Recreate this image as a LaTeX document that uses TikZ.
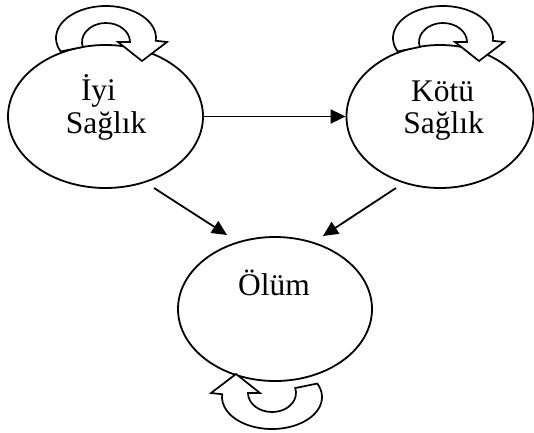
\documentclass[tikz,border=0pt]{standalone}
\usepackage{fontspec}
\setmainfont{Liberation Serif}
\usetikzlibrary{shapes.geometric,arrows.meta}
\begin{document}
\begin{tikzpicture}[x=1pt,y=-1pt,
  state/.style={draw,ellipse,line width=1.8pt,inner sep=0pt},
  lbl/.style={anchor=base,inner sep=0pt,font=\fontsize{31.5}{34}\selectfont},
  conn/.style={line width=1.8pt,-{Triangle[length=15pt,width=14pt]}},
  selfloop/.pic={
    \draw[line width=1.7pt,fill=white,line join=miter]
      (-45.3,13.5) arc[start angle=155,end angle=365,x radius=50,y radius=32]
      -- (61,4) -- (36,23) -- (12,4) -- (24,4)
      arc[start angle=0,end angle=-195,x radius=24,y radius=19]
      -- cycle;
  }]
\useasboundingbox (0,0) rectangle (534,432);
% states
\node[state,minimum width=195pt,minimum height=143pt] (e1) at (105.5,116.5) {};
\node[state,minimum width=187pt,minimum height=143pt] (e2) at (440,116.5) {};
\node[state,minimum width=194pt,minimum height=144pt] (e3) at (275,309) {};
% self loops
\pic at (106,38) {selfloop};
\pic at (443,38) {selfloop};
\pic[rotate=180] at (272,397) {selfloop};
% labels
\node[lbl] (t1a) at (98.5,100) {İyi};
\node[lbl] (t1b) at (106,133) {Sağlık};
\node[lbl] (t2a) at (442.5,101.5) {Kötü};
\node[lbl] (t2b) at (443.5,133) {Sağlık};
\node[lbl] (t3) at (274,295) {Ölüm};
% transitions
\coordinate (a1s) at (154,188);
\coordinate (a1e) at (227,235);
\coordinate (a2s) at (396,188);
\coordinate (a2e) at (323,236);
\draw[conn] (e1.east) -- (e2.west);
\draw[conn] (a1s) -- (a1e);
\draw[conn] (a2s) -- (a2e);
\end{tikzpicture}
\end{document}
